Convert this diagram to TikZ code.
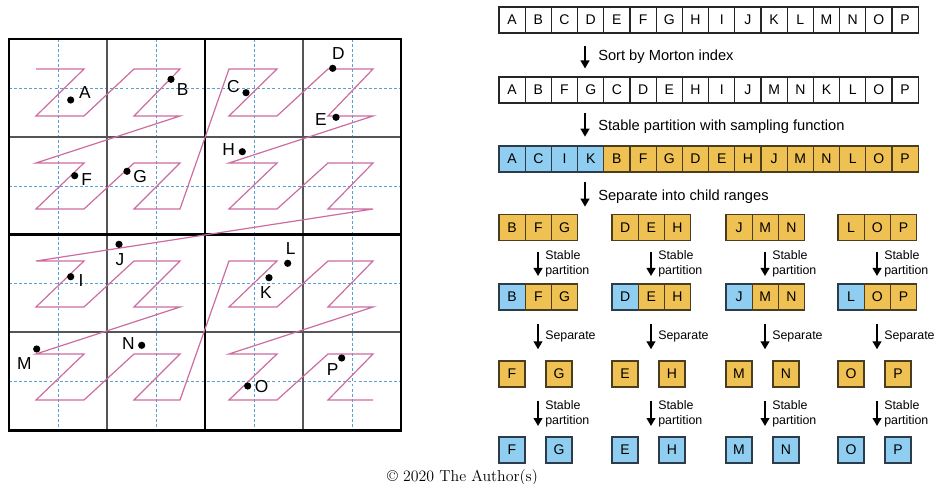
\documentclass[tikz,border=0pt]{standalone}
\usepackage{fontspec}
\newfontfamily\arial{Liberation Sans}
\usetikzlibrary{arrows.meta}
\definecolor{zpink}{RGB}{206,108,162}
\definecolor{gridblue}{RGB}{90,160,210}
\definecolor{cblue}{RGB}{143,206,240}
\definecolor{corange}{RGB}{239,192,82}
\definecolor{gline}{RGB}{85,85,85}
\definecolor{oborder}{RGB}{75,62,30}
\definecolor{bborder}{RGB}{45,60,75}
\begin{document}
\begin{tikzpicture}[x=0.75pt,y=-0.75pt,
  thickline/.style={line width=2pt,black},
  thinline/.style={line width=1pt,gline},
  dashline/.style={line width=0.7pt,gridblue,dash pattern=on 2.2pt off 1.6pt},
  zcurve/.style={line width=0.9pt,zpink,line join=miter},
  ptdot/.style={circle,fill=black,inner sep=0,minimum size=5.4pt},
  ptlabel/.style={inner sep=0,font=\arial\fontsize{13}{15}\selectfont},
  cellbox/.style={draw=black!85,line width=0.8pt,minimum width=19.65pt,minimum height=19.5pt,inner sep=0,font=\arial\fontsize{10.5}{12}\selectfont},
  wcell/.style={cellbox,fill=white},
  ocell/.style={cellbox,fill=corange,draw=oborder},
  bcell/.style={cellbox,fill=cblue,draw=bborder},
  flowarrow/.style={line width=1.5pt,-{Triangle[length=6pt,width=6.5pt]}},
  maintext/.style={anchor=base west,inner sep=0,font=\arial\fontsize{11}{13}\selectfont},
  subtext/.style={anchor=base west,inner sep=0,font=\arial\fontsize{9.3}{11}\selectfont},
  copytext/.style={anchor=base,inner sep=0,font=\fontsize{11.9}{14}\selectfont},
]
\fill[white] (0,0) rectangle (935,484);
\useasboundingbox (0,0) rectangle (935,484);

% ---------- grid ----------
\foreach \v in {58,156,254,352} \draw[dashline] (\v,39) -- (\v,430.5);
\foreach \v in {88,186,283.5,381} \draw[dashline] (9,\v) -- (401,\v);
\foreach \v in {107,303} \draw[thinline] (\v,39) -- (\v,430.5);
\foreach \v in {137,332} \draw[thinline] (9,\v) -- (401,\v);
\draw[thickline] (205,39) -- (205,430.5);
\draw[thickline] (9,234.5) -- (401,234.5);
\draw[thickline] (9,39) rectangle (401,430.5);

% ---------- Morton curve ----------
\foreach \k in {0,...,63}{
  \pgfmathtruncatemacro\xi{mod(\k,2)+2*mod(floor(\k/4),2)+4*mod(floor(\k/16),2)}
  \pgfmathtruncatemacro\yi{mod(floor(\k/2),2)+2*mod(floor(\k/8),2)+4*mod(floor(\k/32),2)}
  \pgfmathsetmacro\px{{36,84,134,180,229,277,328,373}[\xi]}
  \pgfmathsetmacro\py{{69,116,163,209,261,307,354,400}[\yi]}
  \coordinate (z\k) at (\px,\py);
}
\draw[zcurve] (z0) \foreach \k in {1,...,63}{ -- (z\k)};

% ---------- points ----------
\foreach \n/\dx/\dy/\lx/\ly in {
  A/70.7/100/85/93, B/171/79.3/182.7/90, C/246/92.7/233.3/86.7,
  D/332.7/68.3/338.3/54, E/336/117.3/321/119.3, F/74.7/175.7/86.7/179.3,
  G/127/171.3/140/176.7, H/242.3/151.7/228.7/149.3, I/70.7/276.7/81/280.7,
  J/119/244.3/120/259.3, K/269/277.7/266/292.3, L/287.7/263.3/290.7/248.3,
  M/36.7/349/24.3/364, N/141.7/345.3/128.3/344, O/247.7/386/261.7/386.7,
  P/341.7/358/332.7/369.3}{
  \node[ptdot] (p\n) at (\dx,\dy) {};
  \node[ptlabel] (l\n) at (\lx,\ly) {\n};
}

% ---------- rows of cells ----------
\foreach \l [count=\i from 0] in {A,B,C,D,E,F,G,H,I,J,K,L,M,N,O,P}
  \node[wcell] (ra\l) at (512.1+26.2*\i,20) {\l};
\foreach \l [count=\i from 0] in {A,B,F,G,C,D,E,H,I,J,M,N,K,L,O,P}
  \node[wcell] (rb\l) at (512.1+26.2*\i,90) {\l};
\foreach \l/\s [count=\i from 0] in {A/bcell,C/bcell,I/bcell,K/bcell,B/ocell,F/ocell,G/ocell,D/ocell,E/ocell,H/ocell,J/ocell,M/ocell,N/ocell,L/ocell,O/ocell,P/ocell}
  \node[\s] (rc\l) at (512.1+26.2*\i,159) {\l};

% main arrows and texts
\coordinate (a1s) at (585,46.5);  \coordinate (a1e) at (585,68.5);
\coordinate (a2s) at (585,112.7); \coordinate (a2e) at (585,136.7);
\coordinate (a3s) at (585,181.7); \coordinate (a3e) at (585,206.7);
\draw[flowarrow] (a1s) -- (a1e);
\draw[flowarrow] (a2s) -- (a2e);
\draw[flowarrow] (a3s) -- (a3e);
\node[maintext] (t1) at (598,60.7) {Sort by Morton index};
\node[maintext] (t2) at (598,130.7) {Stable partition with sampling function};
\node[maintext] (t3) at (598,200.7) {Separate into child ranges};

% groups
\foreach \s/\a/\b/\c in {499/B/F/G,612/D/E/H,726/J/M/N,838/L/O/P}{
  \node[ocell] (rd\a) at (\s+13.1,227.7) {\a};
  \node[ocell] (rd\b) at (\s+39.3,227.7) {\b};
  \node[ocell] (rd\c) at (\s+65.5,227.7) {\c};
  \node[bcell] (re\a) at (\s+13.1,297) {\a};
  \node[ocell] (re\b) at (\s+39.3,297) {\b};
  \node[ocell] (re\c) at (\s+65.5,297) {\c};
  \node[ocell,minimum width=19.5pt] (rf\b) at (\s+13,374) {\b};
  \node[ocell,minimum width=19.5pt] (rf\c) at (\s+60,374) {\c};
  \node[bcell,minimum width=19.5pt] (rg\b) at (\s+13,450) {\b};
  \node[bcell,minimum width=19.5pt] (rg\c) at (\s+60,450) {\c};
  \coordinate (s1\a) at (\s+39,251.7); \coordinate (e1\a) at (\s+39,276);
  \coordinate (s2\a) at (\s+39,324);   \coordinate (e2\a) at (\s+39,349.3);
  \coordinate (s3\a) at (\s+39,400.7); \coordinate (e3\a) at (\s+39,426);
  \draw[flowarrow] (s1\a) -- (e1\a);
  \draw[flowarrow] (s2\a) -- (e2\a);
  \draw[flowarrow] (s3\a) -- (e3\a);
  \node[subtext] (u1\a) at (\s+46,260) {Stable};
  \node[subtext] (v1\a) at (\s+46,275) {partition};
  \node[subtext] (u2\a) at (\s+46,340) {Separate};
  \node[subtext] (u3\a) at (\s+46,410) {Stable};
  \node[subtext] (v3\a) at (\s+46,424.5) {partition};
}

% copyright
\node[copytext] (copy) at (462.5,481.5) {\textcopyright\ 2020 The Author(s)};
\end{tikzpicture}
\end{document}
